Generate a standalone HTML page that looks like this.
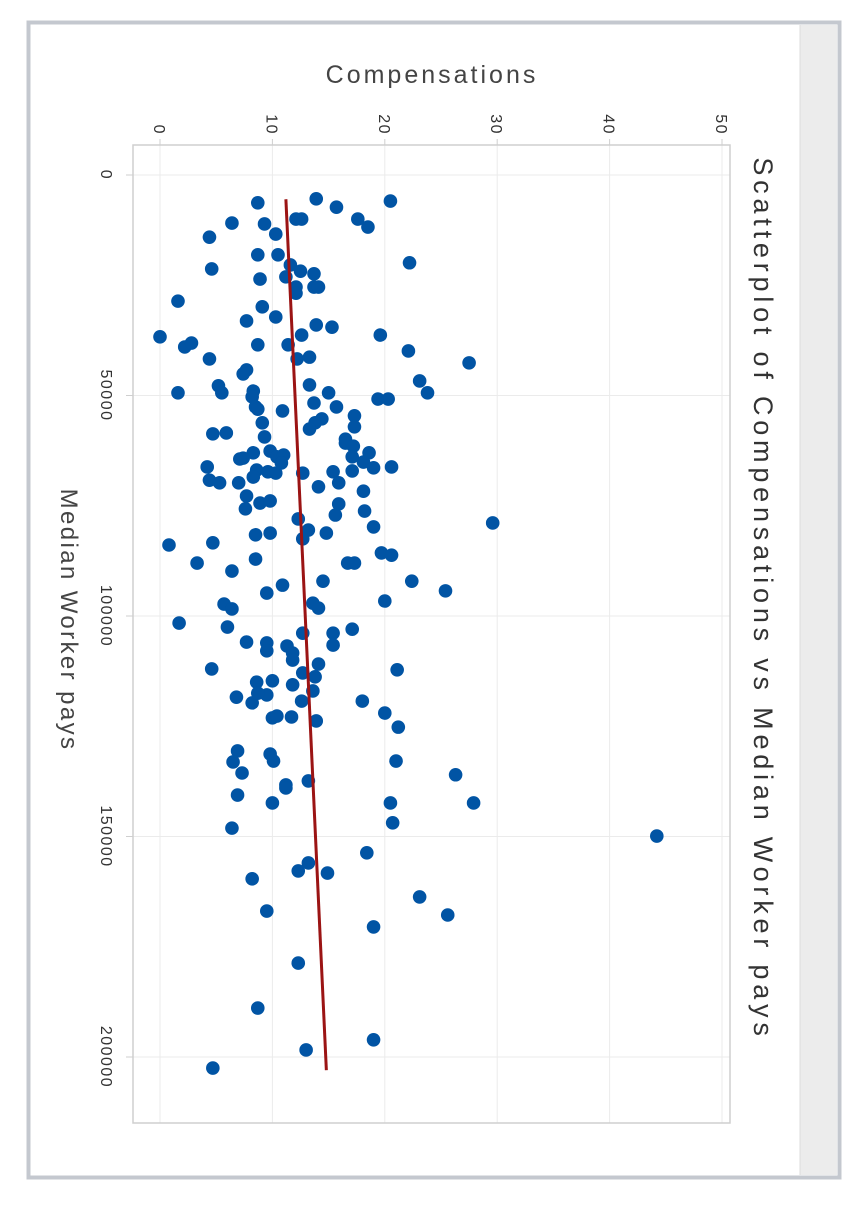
<!DOCTYPE html>
<html><head><meta charset="utf-8"><style>
html,body{margin:0;padding:0;background:#fff;}
svg{display:block;font-family:"Liberation Sans",sans-serif;}
</style></head><body>
<svg id="chart" width="856" height="1206" viewBox="0 0 856 1206" xmlns="http://www.w3.org/2000/svg">
<rect x="28.5" y="22.5" width="811" height="1155" fill="#fff" stroke="#c4c8cf" stroke-width="4"/>
<rect x="800" y="25" width="37" height="1150" fill="#ececec"/>
<line x1="800" y1="25" x2="800" y2="1175" stroke="#dcdcdc"/>
<g id="grid"></g>
<rect x="133" y="145" width="597" height="978" fill="none" stroke="#cfcfcf" stroke-width="1.5"/>
<g id="ticks"></g>
<g id="marks"></g>
<text x="432" y="83" text-anchor="middle" font-size="25" letter-spacing="3" fill="#444">Compensations</text>
<text transform="translate(61,620) rotate(90)" text-anchor="middle" font-size="24" letter-spacing="2.4" fill="#444">Median Worker pays</text>
<text transform="translate(754,599) rotate(90)" text-anchor="middle" font-size="27" letter-spacing="4.8" fill="#333">Scatterplot of Compensations vs Median Worker pays</text>
</svg>
<script>
const compTicks=[0,10,20,30,40,50];
const payTicks=[0,50000,100000,150000,200000];
const comp=[8.7,13.9,15.7,20.5,17.6,18.5,12.1,12.6,6.4,9.3,10.3,4.4,8.7,10.5,22.2,4.6,11.6,12.5,13.7,11.2,8.9,12.1,12.1,13.7,14.1,1.6,9.1,7.7,10.3,13.9,15.3,12.6,19.6,0,2.2,2.8,8.7,11.4,12.2,13.3,22.1,4.4,27.5,7.7,7.4,23.1,23.8,1.6,5.2,5.5,8.3,8.2,13.3,15.0,19.4,20.3,13.7,15.7,8.5,8.7,10.9,9.1,17.3,17.3,14.4,13.8,13.3,4.7,5.9,9.3,16.5,16.5,17.2,8.3,7.4,7.1,9.8,10.4,11.0,17.1,18.6,18.1,4.2,8.6,8.3,9.6,10.3,10.8,12.7,15.4,15.9,17.1,19.0,20.6,4.4,5.3,7.0,14.1,18.1,7.7,8.9,9.8,7.6,15.9,15.6,18.2,12.3,29.6,19.0,13.2,12.7,14.8,8.5,9.8,0.8,4.7,3.3,8.5,6.4,19.7,20.6,16.7,17.3,14.5,22.4,25.4,10.9,9.5,20.0,5.7,6.4,13.6,14.1,1.7,6.0,12.7,15.4,15.4,17.1,7.7,9.5,9.5,11.3,11.8,11.8,4.6,14.1,12.7,13.8,21.1,8.6,10.0,11.8,6.8,8.2,9.5,8.7,13.6,12.6,18.0,10.0,10.4,11.7,13.9,20.0,21.2,6.9,6.5,7.3,9.8,10.1,21.0,26.3,13.2,11.2,11.2,6.9,10.0,20.5,27.9,20.7,6.4,18.4,13.2,12.3,14.9,8.2,23.1,9.5,25.6,19.0,44.2,12.3,8.7,19.0,13.0,4.7];
const pay=[6.3,5.4,7.3,5.9,10.0,11.8,10.0,10.0,10.9,11.1,13.4,14.1,18.1,18.1,19.9,21.3,20.4,21.8,22.4,23.1,23.6,25.4,26.8,25.4,25.4,28.6,29.9,33.1,32.2,34.0,34.5,36.3,36.3,36.7,39.0,38.1,38.5,38.5,41.7,41.3,39.9,41.7,42.6,44.2,45.1,46.7,49.4,49.4,47.8,49.4,49.0,50.3,47.6,49.4,50.8,50.8,51.7,52.6,52.6,53.1,53.5,56.2,54.6,57.1,55.3,56.2,57.6,58.7,58.5,59.4,59.9,60.8,61.5,63.0,64.2,64.4,62.6,63.9,63.5,63.9,63.0,65.1,66.2,66.9,68.5,67.3,67.6,65.3,67.6,67.3,69.8,67.1,66.4,66.2,69.2,69.8,69.8,70.7,71.7,72.8,74.4,73.9,75.7,74.6,77.1,76.2,78.0,78.9,79.8,80.5,82.5,81.2,81.6,81.2,83.9,83.4,88.0,87.1,89.8,85.7,86.2,88.0,88.0,92.1,92.1,94.3,93.0,94.8,96.6,97.3,98.4,97.1,98.2,101.6,102.5,103.9,103.9,106.6,103.0,105.9,106.1,107.9,106.8,108.4,110.0,112.0,110.9,112.9,113.8,112.2,115.0,114.7,115.6,118.4,119.7,117.9,117.5,117.0,119.3,119.3,123.1,122.7,122.9,123.8,122.0,125.2,130.6,133.1,135.6,131.3,132.9,132.9,136.0,137.4,138.3,139.0,140.6,142.4,142.4,142.4,146.9,148.1,153.7,156.0,157.8,158.3,159.6,163.7,166.9,167.8,170.5,149.9,178.7,188.9,196.1,198.4,202.5].map(v=>v*1000);
const trendPay=[5500,203000];
const trendComp=[11.2,14.8];

const NS="http://www.w3.org/2000/svg";
function xs(c){return 160+c*11.24;}
function ys(p){return 175+p*0.00441;}
function mk(tag,attrs,parent){const e=document.createElementNS(NS,tag);for(const k in attrs)e.setAttribute(k,attrs[k]);parent.appendChild(e);return e;}
const grid=document.getElementById('grid'),ticks=document.getElementById('ticks'),marks=document.getElementById('marks');
compTicks.forEach(t=>{
  const l=mk('line',{x1:xs(t),x2:xs(t),y1:145,y2:1123,stroke:'#ebebeb','stroke-width':1},grid);
  
  
  const tk=mk('line',{x1:xs(t),x2:xs(t),y1:139,y2:145,stroke:'#cfcfcf'},ticks);
  
  
  const tx=mk('text',{transform:`translate(${xs(t)-6},135) rotate(90)`,'text-anchor':'end','font-size':16,'letter-spacing':1.5,fill:'#333'},ticks);
  tx.textContent=t;
  
  
});
payTicks.forEach(t=>{
  const l=mk('line',{x1:133,x2:730,y1:ys(t),y2:ys(t),stroke:'#ebebeb','stroke-width':1},grid);
  
  
  const tk=mk('line',{x1:126,x2:133,y1:ys(t),y2:ys(t),stroke:'#cfcfcf'},ticks);
  
  
  const tx=mk('text',{transform:`translate(101,${ys(t)}) rotate(90)`,'text-anchor':'middle','font-size':16,'letter-spacing':1.5,fill:'#333'},ticks);
  tx.textContent=t;
  
  
});
comp.forEach((c,i)=>{
  const p=mk('circle',{cx:xs(c),cy:ys(pay[i]),r:6.8,fill:'#0154a4'},marks);
  
  
});
const tl=mk('line',{x1:xs(trendComp[0]),y1:ys(trendPay[0]),x2:xs(trendComp[1]),y2:ys(trendPay[1]),stroke:'#9b1414','stroke-width':3},marks);


</script>
</body></html>
